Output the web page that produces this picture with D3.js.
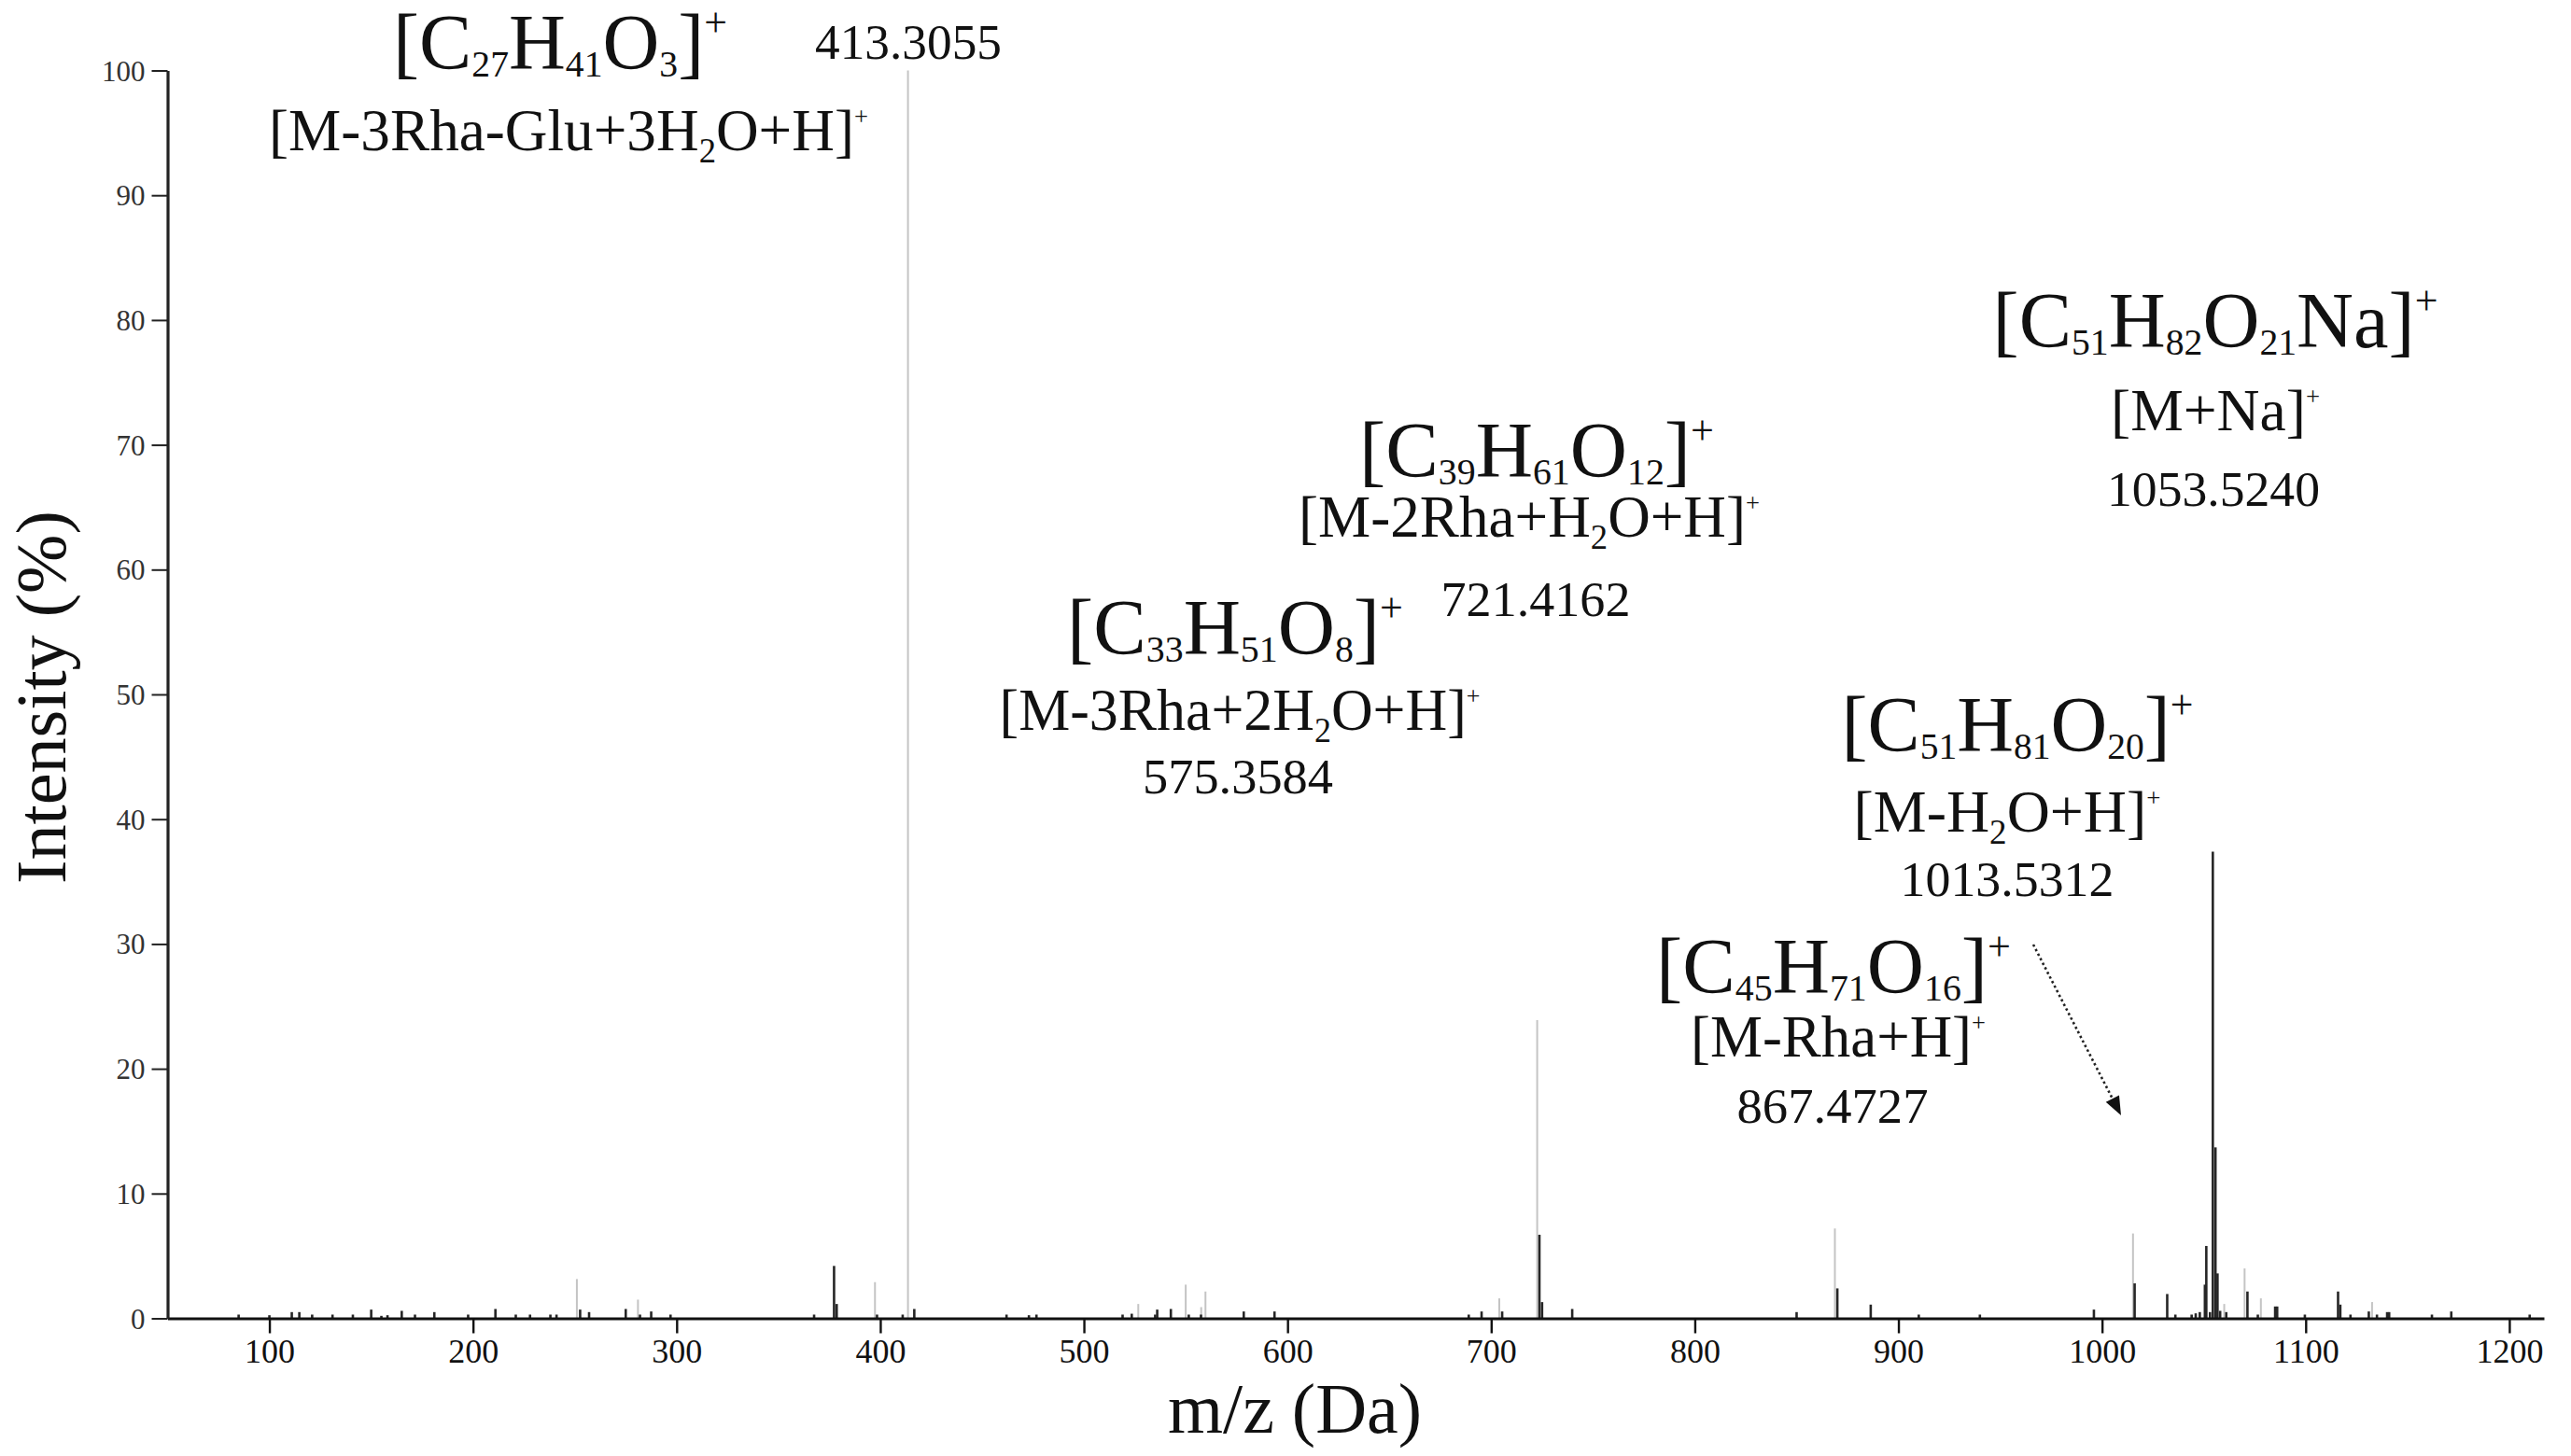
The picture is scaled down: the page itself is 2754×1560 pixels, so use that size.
<!DOCTYPE html>
<html><head><meta charset="utf-8">
<script src="https://cdn.jsdelivr.net/npm/d3@7"></script>
<style>html,body{margin:0;padding:0;background:#fff}</style>
</head><body>
<svg id="chart" width="2754" height="1560"></svg>
<script>
// ---------------- DATA ----------------
const xTicks = [100,200,300,400,500,600,700,800,900,1000,1100,1200];
const yTicks = [0,10,20,30,40,50,60,70,80,90,100];
const xTitle = "m/z (Da)";
const yTitle = "Intensity (%)";

// light grey spectrum
const grayMz  = [251.0, 281.0, 397.4, 413.6, 526.7, 550.0, 557.6, 559.7, 704.0, 722.6, 868.8, 1015.2, 1060.0, 1070.0, 1078.0, 1132.6];
const grayInt = [3.15,  1.5,   2.9,   100,   1.15,  2.7,   0.9,   2.15,  1.6,   23.9,  7.2,   6.8,    1.15,   4.0,    1.6,    1.3];

// dark spectrum
const blackMz  = [84.9,100,111,114.7,121,131,141,150,155,158,165,171.5,181,197.6,211,221,228,238,241,252.6,257,275,282,287.5,297,
                  367.5,377.3,378.6,398.4,411,416.7,462,473,476.7,519,523.5,535,536,542.7,551.5,557.5,578.5,593.6,
                  689,695.3,705.4,723.7,725,739.8,850,870,886.4,910,940,996,1016,1032,1036,1044,1046,1048,1050.5,1051.2,1053,
                  1054.4,1055.7,1056.7,1058,1061,1071.4,1076.5,1085,1086,1099.6,1115.9,1117,1122,1131,1135,1140,1141,1162,1171.5,1210];
const blackInt = [0.3,0.25,0.5,0.5,0.3,0.3,0.3,0.7,0.2,0.25,0.6,0.3,0.5,0.3,0.75,0.3,0.3,0.3,0.3,0.7,0.5,0.75,0.3,0.55,0.3,
                  0.3,4.2,1.15,0.3,0.3,0.75,0.3,0.25,0.3,0.3,0.37,0.3,0.7,0.75,0.3,0.3,0.55,0.55,
                  0.3,0.55,0.55,6.7,1.3,0.75,0.5,2.4,1.1,0.3,0.3,0.7,2.8,1.95,0.3,0.3,0.4,0.5,2.7,5.8,0.5,
                  37.4,13.7,3.6,0.6,0.5,2.15,0.3,0.95,0.95,0.3,2.15,1.1,0.3,0.55,0.3,0.5,0.5,0.3,0.55,0.3];

// annotation texts (_{..} subscript, ^{..} superscript)
const labelTexts = [
  "[C_{27}H_{41}O_{3}]^{+}", "413.3055", "[M-3Rha-Glu+3H_{2}O+H]^{+}",
  "[C_{33}H_{51}O_{8}]^{+}", "[M-3Rha+2H_{2}O+H]^{+}", "575.3584",
  "[C_{39}H_{61}O_{12}]^{+}", "[M-2Rha+H_{2}O+H]^{+}", "721.4162",
  "[C_{51}H_{82}O_{21}Na]^{+}", "[M+Na]^{+}", "1053.5240",
  "[C_{51}H_{81}O_{20}]^{+}", "[M-H_{2}O+H]^{+}", "1013.5312",
  "[C_{45}H_{71}O_{16}]^{+}", "[M-Rha+H]^{+}", "867.4727"
];
const labelKinds = ["f","n","i","f","i","n","f","i","n","f","i","n","f","i","n","f","i","n"];

// ---------------- LAYOUT ----------------
const W = 2754, H = 1560;
const plot = {left:179.5, right:2725, top:75.5, bottom:1412.5};
const FONT = "'Liberation Serif','Times New Roman',serif";
// label placement: centre x, baseline y, font size, target width (px)
const labelLayout = [
  {cx:600, by:74, fs:84, w:358}, {cx:973, by:63, fs:52, w:200}, {cx:609, by:161, fs:64, w:642},
  {cx:1323, by:701, fs:84, w:360}, {cx:1328, by:782, fs:64, w:515}, {cx:1326, by:850, fs:52, w:204},
  {cx:1646, by:511, fs:84, w:380}, {cx:1638, by:575, fs:64, w:494}, {cx:1645, by:660, fs:52, w:203},
  {cx:2373, by:372, fs:84, w:477}, {cx:2373, by:461, fs:64, w:224}, {cx:2371, by:542, fs:52, w:228},
  {cx:2161, by:805, fs:84, w:377}, {cx:2150, by:891, fs:64, w:329}, {cx:2150, by:960, fs:52, w:229},
  {cx:1964, by:1064, fs:84, w:380}, {cx:1969, by:1132, fs:64, w:316}, {cx:1963, by:1203, fs:52, w:205}
];
const richStyle = {
  f:{subScale:0.47, subShift:0.10, supScale:0.52, supShift:0.42},
  i:{subScale:0.58, subShift:0.20, supScale:0.42, supShift:0.42},
  n:{subScale:1, subShift:0, supScale:1, supShift:0}
};
const arrowLayout = {x1:2178, y1:1012, x2:2272, y2:1195};

// ---------------- DRAW ----------------
const svg = d3.select("#chart");
svg.append("rect").attr("width",W).attr("height",H).attr("fill","#fff");

const x = d3.scaleLinear().domain([50, 1217]).range([plot.left, plot.right]);
const y = d3.scaleLinear().domain([0, 100]).range([plot.bottom, plot.top]);

const gray = grayMz.map((m,i)=>({mz:m, v:grayInt[i]}));
const black = blackMz.map((m,i)=>({mz:m, v:blackInt[i]}));

svg.append("g").selectAll("line").data(gray).join("line")
  .attr("x1",d=>x(d.mz)).attr("x2",d=>x(d.mz))
  .attr("y1",y(0)).attr("y2",d=>y(d.v))
  .attr("stroke","#c4c4c4").attr("stroke-width",2);

svg.append("g").selectAll("line").data(black).join("line")
  .attr("x1",d=>x(d.mz)).attr("x2",d=>x(d.mz))
  .attr("y1",y(0)).attr("y2",d=>y(d.v))
  .attr("stroke","#262626").attr("stroke-width",2.6);

// axes
const gx = svg.append("g").attr("transform",`translate(0,${plot.bottom})`)
  .call(d3.axisBottom(x).tickValues(xTicks).tickSize(16).tickSizeOuter(0).tickFormat(d3.format("d")));
gx.select(".domain").attr("stroke","#111").attr("stroke-width",3.2);
gx.selectAll(".tick line").attr("stroke","#111").attr("stroke-width",2.4);
gx.selectAll(".tick text").attr("font-family",FONT).attr("font-size",36).attr("fill","#111")
  .attr("y",47).attr("dy",0);

const gy = svg.append("g").attr("transform",`translate(${plot.left},0)`)
  .call(d3.axisLeft(y).tickValues(yTicks).tickSize(17).tickSizeOuter(0).tickFormat(d3.format("d")));
gy.select(".domain").attr("stroke","#222").attr("stroke-width",3.2);
gy.selectAll(".tick line").attr("stroke","#222").attr("stroke-width",2);
gy.selectAll(".tick text").attr("font-family",FONT).attr("font-size",31).attr("fill","#333")
  .attr("x",-24).attr("dy","0.34em");

// axis titles
const xt = svg.append("text").attr("font-family",FONT).attr("font-size",76).attr("fill","#111")
  .attr("text-anchor","middle").text(xTitle);
fit(xt, 1387, 1535, 272, 0);
const yt = svg.append("text").attr("font-family",FONT).attr("font-size",76).attr("fill","#111")
  .attr("text-anchor","middle").text(yTitle);
fit(yt, 70, 747, 400, -90);

function fit(sel, cx, by, targetW, rot){
  const bw = sel.node().getBBox().width;
  const sx = targetW / bw;
  sel.attr("transform", `translate(${cx},${by}) rotate(${rot}) scale(${sx},1)`);
}

function addRich(textSel, str, fs, st){
  const re = /(_\{[^}]*\}|\^\{[^}]*\}|[^_^]+)/g;
  let m, shift = 0;
  while ((m = re.exec(str))) {
    const tok = m[0];
    let t = tok, target = 0, size = fs;
    if (tok.startsWith("_{")) { t = tok.slice(2,-1); target = fs*st.subShift; size = fs*st.subScale; }
    else if (tok.startsWith("^{")) { t = tok.slice(2,-1); target = -fs*st.supShift; size = fs*st.supScale; }
    textSel.append("tspan").attr("dy", target - shift).attr("font-size", size).text(t);
    shift = target;
  }
}

const gl = svg.append("g");
labelTexts.forEach((s,i)=>{
  const L = labelLayout[i];
  const t = gl.append("text").attr("font-family",FONT).attr("font-size",L.fs)
    .attr("fill","#111").attr("text-anchor","middle");
  addRich(t, s, L.fs, richStyle[labelKinds[i]]);
  fit(t, L.cx, L.by, L.w, 0);
});

// dotted arrow
const A = arrowLayout;
const ang = Math.atan2(A.y2-A.y1, A.x2-A.x1);
const hl = 20, hw = 8;
const bx = A.x2 - hl*Math.cos(ang), byy = A.y2 - hl*Math.sin(ang);
svg.append("line").attr("x1",A.x1).attr("y1",A.y1).attr("x2",bx).attr("y2",byy)
  .attr("stroke","#222").attr("stroke-width",2.6).attr("stroke-dasharray","2.5,3");
svg.append("path")
  .attr("d",`M${A.x2},${A.y2} L${bx+hw*Math.sin(ang)},${byy-hw*Math.cos(ang)} L${bx-hw*Math.sin(ang)},${byy+hw*Math.cos(ang)} Z`)
  .attr("fill","#111");
</script>
</body></html>
